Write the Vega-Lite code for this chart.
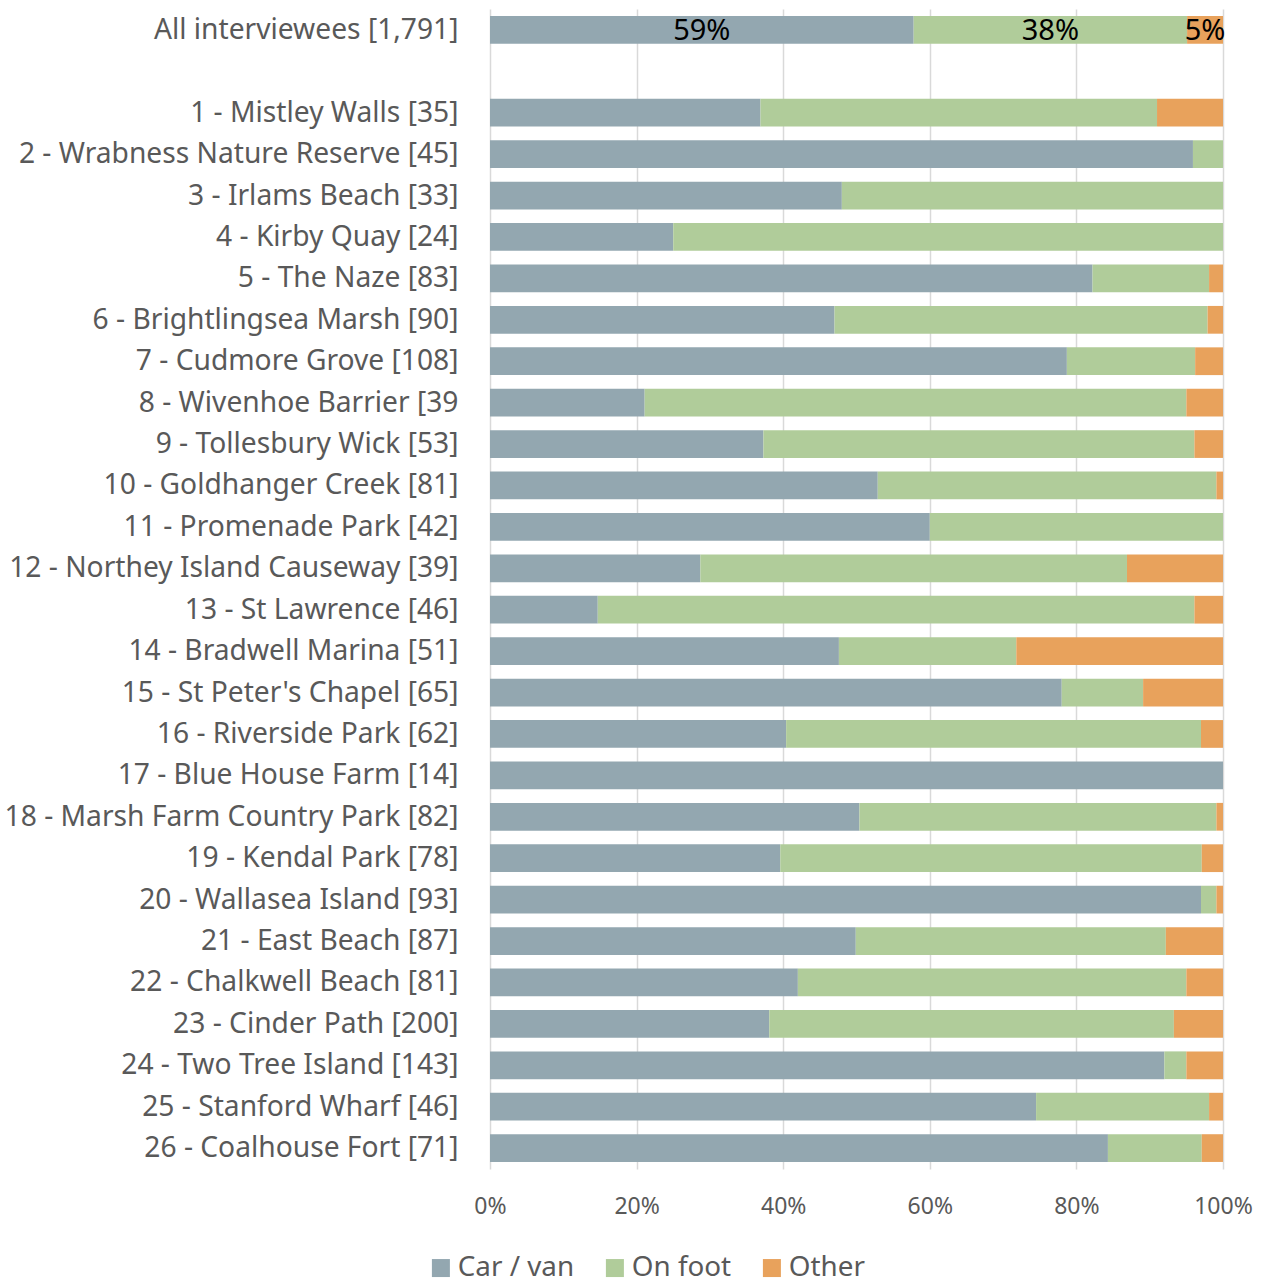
{
  "$schema": "https://vega.github.io/schema/vega-lite/v6.json",
  "autosize": {"type": "none"},
  "width": 733,
  "height": 1160,
  "padding": {"left": 490, "top": 9, "right": 48, "bottom": 115},
  "background": "white",
  "config": {
    "font": "Noto Sans",
    "view": {"stroke": null}
  },
  "datasets": {
    "rows": [
      {"site": "All interviewees [1,791]", "mode": "Car / van", "ord": 1, "pct": 57.8, "label": "59%"},
      {"site": "All interviewees [1,791]", "mode": "On foot", "ord": 2, "pct": 37.3, "label": "38%"},
      {"site": "All interviewees [1,791]", "mode": "Other", "ord": 3, "pct": 4.9, "label": "5%"},
      {"site": "1 - Mistley Walls [35]", "mode": "Car / van", "ord": 1, "pct": 36.9},
      {"site": "1 - Mistley Walls [35]", "mode": "On foot", "ord": 2, "pct": 54.1},
      {"site": "1 - Mistley Walls [35]", "mode": "Other", "ord": 3, "pct": 9.0},
      {"site": "2 - Wrabness Nature Reserve [45]", "mode": "Car / van", "ord": 1, "pct": 95.9},
      {"site": "2 - Wrabness Nature Reserve [45]", "mode": "On foot", "ord": 2, "pct": 4.1},
      {"site": "3 - Irlams Beach [33]", "mode": "Car / van", "ord": 1, "pct": 48.0},
      {"site": "3 - Irlams Beach [33]", "mode": "On foot", "ord": 2, "pct": 52.0},
      {"site": "4 - Kirby Quay [24]", "mode": "Car / van", "ord": 1, "pct": 25.0},
      {"site": "4 - Kirby Quay [24]", "mode": "On foot", "ord": 2, "pct": 75.0},
      {"site": "5 - The Naze [83]", "mode": "Car / van", "ord": 1, "pct": 82.2},
      {"site": "5 - The Naze [83]", "mode": "On foot", "ord": 2, "pct": 15.9},
      {"site": "5 - The Naze [83]", "mode": "Other", "ord": 3, "pct": 1.9},
      {"site": "6 - Brightlingsea Marsh [90]", "mode": "Car / van", "ord": 1, "pct": 47.0},
      {"site": "6 - Brightlingsea Marsh [90]", "mode": "On foot", "ord": 2, "pct": 50.9},
      {"site": "6 - Brightlingsea Marsh [90]", "mode": "Other", "ord": 3, "pct": 2.1},
      {"site": "7 - Cudmore Grove [108]", "mode": "Car / van", "ord": 1, "pct": 78.7},
      {"site": "7 - Cudmore Grove [108]", "mode": "On foot", "ord": 2, "pct": 17.5},
      {"site": "7 - Cudmore Grove [108]", "mode": "Other", "ord": 3, "pct": 3.8},
      {"site": "8 - Wivenhoe Barrier [39", "mode": "Car / van", "ord": 1, "pct": 21.1},
      {"site": "8 - Wivenhoe Barrier [39", "mode": "On foot", "ord": 2, "pct": 73.9},
      {"site": "8 - Wivenhoe Barrier [39", "mode": "Other", "ord": 3, "pct": 5.0},
      {"site": "9 - Tollesbury Wick [53]", "mode": "Car / van", "ord": 1, "pct": 37.3},
      {"site": "9 - Tollesbury Wick [53]", "mode": "On foot", "ord": 2, "pct": 58.8},
      {"site": "9 - Tollesbury Wick [53]", "mode": "Other", "ord": 3, "pct": 3.9},
      {"site": "10 - Goldhanger Creek [81]", "mode": "Car / van", "ord": 1, "pct": 52.9},
      {"site": "10 - Goldhanger Creek [81]", "mode": "On foot", "ord": 2, "pct": 46.2},
      {"site": "10 - Goldhanger Creek [81]", "mode": "Other", "ord": 3, "pct": 0.9},
      {"site": "11 - Promenade Park [42]", "mode": "Car / van", "ord": 1, "pct": 60.0},
      {"site": "11 - Promenade Park [42]", "mode": "On foot", "ord": 2, "pct": 40.0},
      {"site": "12 - Northey Island Causeway [39]", "mode": "Car / van", "ord": 1, "pct": 28.7},
      {"site": "12 - Northey Island Causeway [39]", "mode": "On foot", "ord": 2, "pct": 58.2},
      {"site": "12 - Northey Island Causeway [39]", "mode": "Other", "ord": 3, "pct": 13.1},
      {"site": "13 - St Lawrence [46]", "mode": "Car / van", "ord": 1, "pct": 14.7},
      {"site": "13 - St Lawrence [46]", "mode": "On foot", "ord": 2, "pct": 81.4},
      {"site": "13 - St Lawrence [46]", "mode": "Other", "ord": 3, "pct": 3.9},
      {"site": "14 - Bradwell Marina [51]", "mode": "Car / van", "ord": 1, "pct": 47.6},
      {"site": "14 - Bradwell Marina [51]", "mode": "On foot", "ord": 2, "pct": 24.2},
      {"site": "14 - Bradwell Marina [51]", "mode": "Other", "ord": 3, "pct": 28.2},
      {"site": "15 - St Peter's Chapel [65]", "mode": "Car / van", "ord": 1, "pct": 78.0},
      {"site": "15 - St Peter's Chapel [65]", "mode": "On foot", "ord": 2, "pct": 11.1},
      {"site": "15 - St Peter's Chapel [65]", "mode": "Other", "ord": 3, "pct": 10.9},
      {"site": "16 - Riverside Park [62]", "mode": "Car / van", "ord": 1, "pct": 40.4},
      {"site": "16 - Riverside Park [62]", "mode": "On foot", "ord": 2, "pct": 56.6},
      {"site": "16 - Riverside Park [62]", "mode": "Other", "ord": 3, "pct": 3.0},
      {"site": "17 - Blue House Farm [14]", "mode": "Car / van", "ord": 1, "pct": 100.0},
      {"site": "18 - Marsh Farm Country Park [82]", "mode": "Car / van", "ord": 1, "pct": 50.4},
      {"site": "18 - Marsh Farm Country Park [82]", "mode": "On foot", "ord": 2, "pct": 48.7},
      {"site": "18 - Marsh Farm Country Park [82]", "mode": "Other", "ord": 3, "pct": 0.9},
      {"site": "19 - Kendal Park [78]", "mode": "Car / van", "ord": 1, "pct": 39.6},
      {"site": "19 - Kendal Park [78]", "mode": "On foot", "ord": 2, "pct": 57.5},
      {"site": "19 - Kendal Park [78]", "mode": "Other", "ord": 3, "pct": 2.9},
      {"site": "20 - Wallasea Island [93]", "mode": "Car / van", "ord": 1, "pct": 97.0},
      {"site": "20 - Wallasea Island [93]", "mode": "On foot", "ord": 2, "pct": 2.1},
      {"site": "20 - Wallasea Island [93]", "mode": "Other", "ord": 3, "pct": 0.9},
      {"site": "21 - East Beach [87]", "mode": "Car / van", "ord": 1, "pct": 49.9},
      {"site": "21 - East Beach [87]", "mode": "On foot", "ord": 2, "pct": 42.3},
      {"site": "21 - East Beach [87]", "mode": "Other", "ord": 3, "pct": 7.8},
      {"site": "22 - Chalkwell Beach [81]", "mode": "Car / van", "ord": 1, "pct": 42.0},
      {"site": "22 - Chalkwell Beach [81]", "mode": "On foot", "ord": 2, "pct": 53.0},
      {"site": "22 - Chalkwell Beach [81]", "mode": "Other", "ord": 3, "pct": 5.0},
      {"site": "23 - Cinder Path [200]", "mode": "Car / van", "ord": 1, "pct": 38.1},
      {"site": "23 - Cinder Path [200]", "mode": "On foot", "ord": 2, "pct": 55.2},
      {"site": "23 - Cinder Path [200]", "mode": "Other", "ord": 3, "pct": 6.7},
      {"site": "24 - Two Tree Island [143]", "mode": "Car / van", "ord": 1, "pct": 92.0},
      {"site": "24 - Two Tree Island [143]", "mode": "On foot", "ord": 2, "pct": 3.0},
      {"site": "24 - Two Tree Island [143]", "mode": "Other", "ord": 3, "pct": 5.0},
      {"site": "25 - Stanford Wharf [46]", "mode": "Car / van", "ord": 1, "pct": 74.5},
      {"site": "25 - Stanford Wharf [46]", "mode": "On foot", "ord": 2, "pct": 23.6},
      {"site": "25 - Stanford Wharf [46]", "mode": "Other", "ord": 3, "pct": 1.9},
      {"site": "26 - Coalhouse Fort [71]", "mode": "Car / van", "ord": 1, "pct": 84.3},
      {"site": "26 - Coalhouse Fort [71]", "mode": "On foot", "ord": 2, "pct": 12.8},
      {"site": "26 - Coalhouse Fort [71]", "mode": "Other", "ord": 3, "pct": 2.9}
    ]
  },
  "data": {"name": "rows"},
  "encoding": {
    "y": {
      "field": "site",
      "type": "nominal",
      "scale": {
        "domain": [
          "All interviewees [1,791]", " ",
          "1 - Mistley Walls [35]", "2 - Wrabness Nature Reserve [45]", "3 - Irlams Beach [33]",
          "4 - Kirby Quay [24]", "5 - The Naze [83]", "6 - Brightlingsea Marsh [90]",
          "7 - Cudmore Grove [108]", "8 - Wivenhoe Barrier [39", "9 - Tollesbury Wick [53]",
          "10 - Goldhanger Creek [81]", "11 - Promenade Park [42]", "12 - Northey Island Causeway [39]",
          "13 - St Lawrence [46]", "14 - Bradwell Marina [51]", "15 - St Peter's Chapel [65]",
          "16 - Riverside Park [62]", "17 - Blue House Farm [14]", "18 - Marsh Farm Country Park [82]",
          "19 - Kendal Park [78]", "20 - Wallasea Island [93]", "21 - East Beach [87]",
          "22 - Chalkwell Beach [81]", "23 - Cinder Path [200]", "24 - Two Tree Island [143]",
          "25 - Stanford Wharf [46]", "26 - Coalhouse Fort [71]"
        ],
        "paddingInner": 0.33,
        "paddingOuter": 0.17
      },
      "axis": {
        "title": null,
        "domain": false,
        "ticks": false,
        "labelFontSize": 28.2,
        "labelColor": "#595959",
        "labelPadding": 32,
        "labelOffset": 1,
        "labelLimit": 0
      }
    }
  },
  "layer": [
    {
      "mark": {"type": "bar"},
      "encoding": {
        "x": {
          "field": "pct",
          "type": "quantitative",
          "stack": "normalize",
          "scale": {"domain": [0, 1], "nice": false},
          "axis": {
            "title": null,
            "values": [0, 0.2, 0.4, 0.6, 0.8, 1],
            "format": ".0%",
            "domain": false,
            "ticks": false,
            "grid": true,
            "gridColor": "#D9D9D9",
            "gridWidth": 1.5,
            "labelFontSize": 23,
            "labelColor": "#595959",
            "labelPadding": 26,
            "labelFlush": false
          }
        },
        "color": {
          "field": "mode",
          "type": "nominal",
          "scale": {
            "domain": ["Car / van", "On foot", "Other"],
            "range": ["#93A7B0", "#B0CC9A", "#E8A25C"]
          },
          "legend": {
            "title": null,
            "orient": "none",
            "direction": "horizontal",
            "legendX": -63,
            "legendY": 1245,
            "symbolType": "square",
            "symbolSize": 324,
            "symbolStrokeWidth": 0,
            "labelFontSize": 27.8,
            "labelColor": "#595959",
            "labelOffset": 3,
            "columnPadding": 26
          }
        },
        "order": {"field": "ord", "type": "quantitative"}
      }
    },
    {
      "transform": [
        {"stack": "pct", "groupby": ["site"], "sort": [{"field": "ord"}], "offset": "normalize", "as": ["x0", "x1"]},
        {"filter": "datum.label"},
        {"calculate": "(datum.x0 + datum.x1) / 2", "as": "mid"}
      ],
      "mark": {"type": "text", "fontSize": 29, "color": "#000000", "baseline": "middle", "align": "center", "dy": 1},
      "encoding": {
        "x": {"field": "mid", "type": "quantitative"},
        "text": {"field": "label"}
      }
    }
  ]
}
